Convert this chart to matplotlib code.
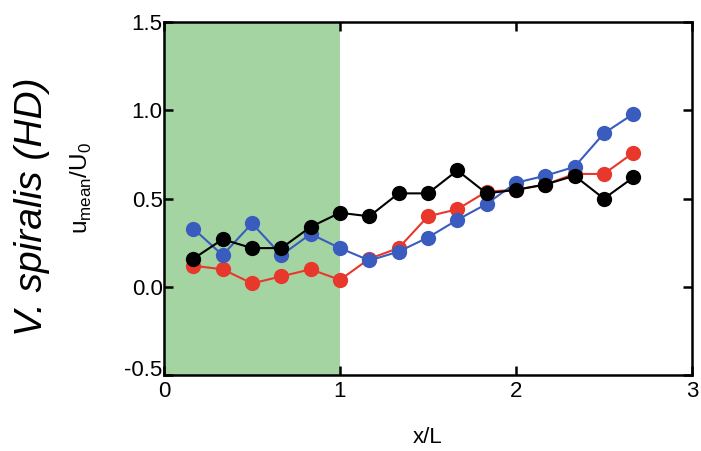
import matplotlib
matplotlib.use("Agg")
from matplotlib import pyplot as plt
from matplotlib import transforms

plt.rcParams['font.family'] = ['Liberation Sans', 'DejaVu Sans']

# x/L positions of the measurement stations
x_pos = [0.167, 0.333, 0.5, 0.667, 0.833, 1.0, 1.167, 1.333,
         1.5, 1.667, 1.833, 2.0, 2.167, 2.333, 2.5, 2.667]

red_vals = [0.12, 0.10, 0.02, 0.06, 0.10, 0.04, 0.16, 0.22,
            0.40, 0.44, 0.54, 0.55, 0.58, 0.64, 0.64, 0.76]
blue_vals = [0.33, 0.18, 0.36, 0.18, 0.30, 0.22, 0.15, 0.20,
             0.28, 0.38, 0.47, 0.59, 0.63, 0.68, 0.87, 0.98]
black_vals = [0.16, 0.27, 0.22, 0.22, 0.34, 0.42, 0.40, 0.53,
              0.53, 0.66, 0.53, 0.55, 0.58, 0.63, 0.50, 0.62]

series = [("red", "#e8382c", red_vals),
          ("blue", "#3b5cbf", blue_vals),
          ("black", "#000000", black_vals)]

fig = plt.figure(figsize=(7.01, 4.51), dpi=100)
ax = fig.add_axes([0.234, 0.168, 0.753, 0.783])

# canopy region
ax.axvspan(0, 1, color="#a4d4a2", lw=0, zorder=0)

for name, col, vals in series:
    ax.plot(x_pos, vals, "-o", color=col, lw=1.5, markersize=11,
            markeredgewidth=0, label=name, zorder=3)

ax.set_xlim(0, 3)
ax.set_ylim(-0.5, 1.5)
ax.set_xticks([0, 1, 2, 3])
ax.set_xticklabels(["0", "1", "2", "3"])
ax.set_yticks([-0.5, 0.0, 0.5, 1.0, 1.5])
ax.set_yticklabels(["-0.5", "0.0", "0.5", "1.0", "1.5"])

for sp in ax.spines.values():
    sp.set_linewidth(1.8)
ax.tick_params(direction="in", length=6.5, width=1.8, labelsize=16,
               top=True, right=True)
ax.tick_params(axis="y", pad=1)
ax.tick_params(axis="x", pad=4)

# lift the bottom y label a little so it sits clear of the "0"
low = ax.get_yticklabels()[0]
low.set_transform(low.get_transform() +
                  transforms.ScaledTranslation(0, 5 / 72, fig.dpi_scale_trans))

ax.set_xlabel("x/L", fontsize=16, labelpad=18)

fig.text(0.046, 0.541, "V. spiralis (HD)", rotation=90, style="italic",
         fontsize=28, ha="center", va="center")
fig.text(0.116, 0.583, r"u$_{\mathregular{mean}}$/U$_{\mathregular{0}}$",
         rotation=90, fontsize=17.5, ha="center", va="center")

fig.savefig("out.png", dpi=100)
